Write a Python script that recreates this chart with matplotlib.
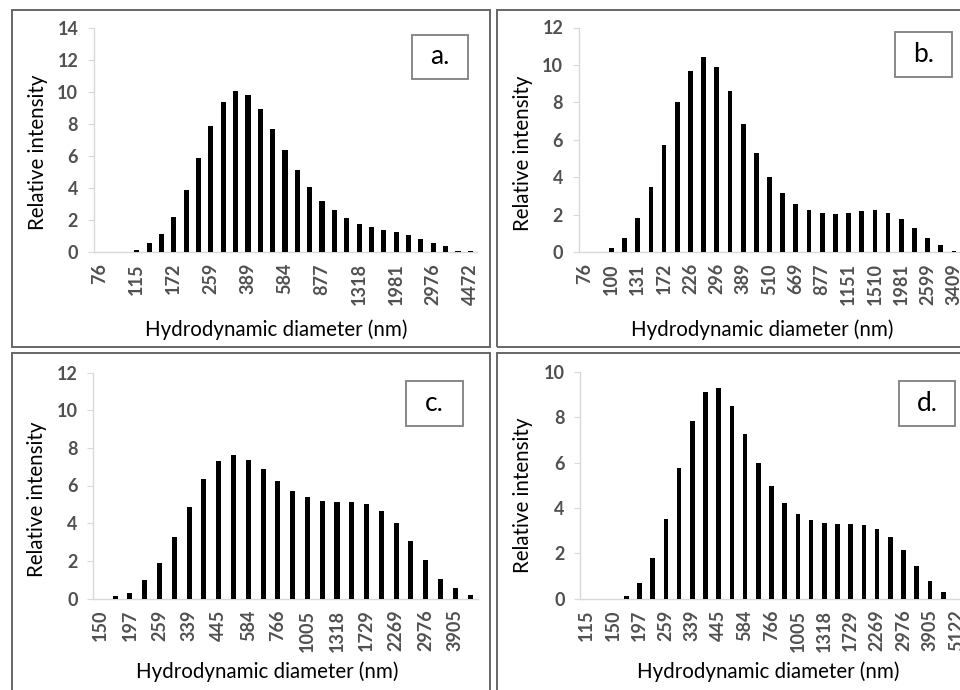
import matplotlib.pyplot as plt
from matplotlib.patches import Rectangle

plt.rcParams['font.family'] = ['Lato', 'DejaVu Sans']

# size classes (nm) shared by all four distributions
sizes_nm = [76, 87, 100, 115, 131, 150, 172, 197, 226, 259, 296, 339, 389, 445,
            510, 584, 669, 766, 877, 1005, 1151, 1318, 1510, 1729, 1981, 2269,
            2599, 2976, 3409, 3905, 4472, 5122]

sizes_a = sizes_nm[0:31]
sizes_b = sizes_nm[0:29]
sizes_c = sizes_nm[5:31]
sizes_d = sizes_nm[3:32]

intensity_a = [0, 0, 0, 0.15, 0.56, 1.15, 2.2, 3.85, 5.85, 7.85, 9.4, 10.05, 9.8,
               8.95, 7.7, 6.4, 5.1, 4.05, 3.2, 2.6, 2.1, 1.77, 1.55, 1.4, 1.23,
               1.06, 0.83, 0.58, 0.35, 0.08, 0.06]
intensity_b = [0, 0, 0.2, 0.75, 1.8, 3.5, 5.7, 8.0, 9.7, 10.4, 9.9, 8.6, 6.85,
               5.3, 4.0, 3.15, 2.55, 2.25, 2.1, 2.05, 2.1, 2.2, 2.25, 2.1, 1.75,
               1.3, 0.75, 0.4, 0.05]
intensity_c = [0, 0.14, 0.27, 0.97, 1.91, 3.27, 4.87, 6.37, 7.31, 7.63, 7.38,
               6.85, 6.25, 5.72, 5.4, 5.2, 5.13, 5.13, 5.04, 4.67, 4.0, 3.03,
               2.02, 1.06, 0.55, 0.16]
intensity_d = [0, 0, 0, 0.13, 0.69, 1.79, 3.49, 5.76, 7.84, 9.13, 9.28, 8.49,
               7.26, 5.99, 4.97, 4.21, 3.75, 3.46, 3.34, 3.31, 3.29, 3.24, 3.06,
               2.71, 2.15, 1.44, 0.76, 0.28, 0]

panel_letters = ['a.', 'b.', 'c.', 'd.']
label_steps = [3, 2, 2, 2]
y_max = [14, 12, 12, 10]

W, H = 960, 690
fig = plt.figure(figsize=(9.6, 6.9), dpi=100)


def px_rect(left, top, right, bottom):
    return [left / W, 1 - bottom / H, (right - left) / W, (bottom - top) / H]


def box(left, top, right, bottom, color, lw):
    r = Rectangle((left / W, 1 - bottom / H), (right - left) / W, (bottom - top) / H,
                  transform=fig.transFigure, fill=False, ec=color, lw=lw)
    fig.add_artist(r)


# layout in pixels: frame, axes, letter box, x label centre, y label centre, bar width
layout = [
    dict(frame=(12, 10, 490, 347), axes=(93.5, 28, 476.5, 252),
         tag=(412, 35, 468, 79), xl=(276, 330), yl=(38, 152), bw=0.42),
    dict(frame=(497, 10, 968, 347), axes=(578.5, 27.5, 960.5, 252),
         tag=(895, 32, 952, 77), xl=(762, 330), yl=(523, 153), bw=0.36),
    dict(frame=(12, 353, 490, 700), axes=(93, 372.5, 477.5, 598.5),
         tag=(406, 381, 463, 426), xl=(267, 672), yl=(37, 499), bw=0.34),
    dict(frame=(497, 353, 968, 700), axes=(580, 372, 963, 598.5),
         tag=(899, 381, 955, 426), xl=(768, 672), yl=(523, 495), bw=0.35),
]

all_sizes = [sizes_a, sizes_b, sizes_c, sizes_d]
all_vals = [intensity_a, intensity_b, intensity_c, intensity_d]

for i in range(4):
    lay = layout[i]
    sizes = all_sizes[i]
    vals = all_vals[i]
    n = len(sizes)

    box(*lay['frame'], color='#666666', lw=1.4)

    ax = fig.add_axes(px_rect(*lay['axes']))
    ax.patch.set_visible(False)
    ax.bar(range(n), vals, width=lay['bw'], color='black', zorder=3)
    ax.set_xlim(-0.5, n - 0.5)
    ax.set_ylim(0, y_max[i])
    ax.set_yticks(range(0, y_max[i] + 1, 2))
    ticks = list(range(0, n, label_steps[i]))
    ax.set_xticks(ticks)
    ax.set_xticklabels([str(sizes[t]) for t in ticks], rotation=90)

    for side in ['top', 'right']:
        ax.spines[side].set_visible(False)
    for side in ['left', 'bottom']:
        ax.spines[side].set_color('#d9d9d9')
        ax.spines[side].set_linewidth(1.0)
    ax.tick_params(axis='x', length=0, pad=8, labelsize=13, labelcolor='#505050')
    ax.tick_params(axis='y', length=4, color='#d9d9d9', pad=7, labelsize=13,
                   labelcolor='#505050')
    for lab in ax.get_xticklabels() + ax.get_yticklabels():
        lab.set_fontweight('bold')

    fig.text(lay['xl'][0] / W, 1 - lay['xl'][1] / H, 'Hydrodynamic diameter (nm)',
             ha='center', va='center', fontsize=14.8, color='black')
    fig.text(lay['yl'][0] / W, 1 - lay['yl'][1] / H, 'Relative intensity',
             ha='center', va='center', rotation=90, fontsize=14.8, color='black')

    tx0, ty0, tx1, ty1 = lay['tag']
    box(tx0, ty0, tx1, ty1, color='#7f7f7f', lw=1.3)
    fig.text((tx0 + tx1) / 2 / W, 1 - (ty0 + ty1) / 2 / H, panel_letters[i],
             ha='center', va='center', fontsize=19, color='black')

fig.savefig('out.png', dpi=100)
